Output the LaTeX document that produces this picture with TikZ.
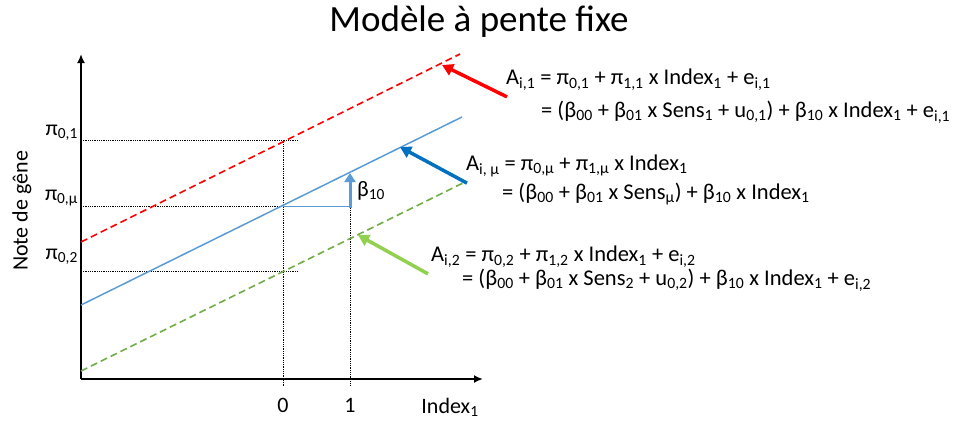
\documentclass[tikz,border=0pt]{standalone}
\usepackage{fontspec}
\setmainfont{Carlito}
\usetikzlibrary{arrows.meta}

\definecolor{lineblue}{RGB}{91,155,213}
\definecolor{darkblue}{RGB}{0,112,192}
\definecolor{linegreen}{RGB}{112,173,71}
\definecolor{lightgreen}{RGB}{146,208,80}
\newcommand{\lo}[1]{\textsubscript{#1}}

\tikzset{
  eq/.style={anchor=west,inner sep=1pt,font=\fontsize{22.5}{26}\selectfont},
  lbl/.style={inner sep=1pt,font=\fontsize{22}{26}\selectfont},
  guide/.style={densely dotted,black,line width=0.8pt},
  longdash/.style={dash pattern=on 7pt off 4pt,line width=1.6pt},
  callout/.style={line width=3.5pt,-{Triangle[length=11pt,width=12pt]}}
}

\begin{document}
\begin{tikzpicture}[x=1pt,y=-1pt]
        \useasboundingbox (0,0) rectangle (978,421);
        \node[font=\fontsize{37}{40}\selectfont] (title) at (479,22) {Modèle à pente fixe};
        % axes
        \coordinate (O) at (81,379);
        \draw[line width=1.8pt,-{Latex[length=9pt,width=8pt]}] (O) -- (483,379) coordinate (xend);
        \draw[line width=1.8pt,-{Latex[length=9pt,width=8pt]}] (O) -- (81,54) coordinate (yend);
        % guides
        \draw[guide] (81,140.5) -- (298,140.5);
        \draw[guide] (81,206.5) -- (283,206.5);
        \draw[guide] (81,271) -- (298,271);
        \draw[guide] (283,140.5) -- (283,386);
        \draw[guide] (350,174) -- (350,386);
        % lines
        \draw[red,longdash] (81,242) -- (460,54);
        \draw[lineblue,line width=1.5pt] (81,305) -- (462,117);
        \draw[linegreen,longdash] (81,371) -- (463,183);
        \draw[lineblue,line width=1pt] (283,206.5) -- (350,206.5);
        \draw[lineblue,line width=3pt,-{Triangle[length=9pt,width=11pt]}] (350,207.5) -- (350,173);
        \node[lbl,anchor=west] (beta) at (356,191) {β\lo{10}};
        % axis labels
        \node[lbl] (zero) at (283,405) {0};
        \node[lbl] (one) at (350,405) {1};
        \node[lbl] (index) at (450,407) {Index\lo{1}};
        \node[lbl,anchor=east] (p1) at (79,133) {π\lo{0,1}};
        \node[lbl,anchor=east] (pmu) at (79,198) {π\lo{0,μ}};
        \node[lbl,anchor=east] (p2) at (79,257) {π\lo{0,2}};
        \node[lbl,rotate=90] (ylab) at (22,211) {Note de gêne};
        % equations
        \node[eq] (eq1a) at (505,80) {A\lo{i,1} = π\lo{0,1} + π\lo{1,1} x Index\lo{1} + e\lo{i,1}};
        \node[eq] (eq1b) at (540,112) {= (β\lo{00} + β\lo{01} x Sens\lo{1} + u\lo{0,1}) + β\lo{10} x Index\lo{1} + e\lo{i,1}};
        \node[eq] (eqma) at (465,166) {A\lo{i, μ} = π\lo{0,μ} + π\lo{1,μ} x Index\lo{1}};
        \node[eq] (eqmb) at (501,194) {= (β\lo{00} + β\lo{01} x Sens\lo{μ}) + β\lo{10} x Index\lo{1}};
        \node[eq] (eq2a) at (430,257) {A\lo{i,2} = π\lo{0,2} + π\lo{1,2} x Index\lo{1} + e\lo{i,2}};
        \node[eq] (eq2b) at (461,280) {= (β\lo{00} + β\lo{01} x Sens\lo{2} + u\lo{0,2}) + β\lo{10} x Index\lo{1} + e\lo{i,2}};
        % callouts
        \coordinate (h1) at (442,65);
        \coordinate (hm) at (400,147);
        \coordinate (h2) at (358,235);
        \draw[callout,red] ([xshift=2pt,yshift=-5pt]eq1a.south west) -- (h1);
        \draw[callout,darkblue] ([xshift=2pt,yshift=-5pt]eqma.south west) -- (hm);
        \draw[callout,lightgreen] ([xshift=-2pt,yshift=-5pt]eq2a.south west) -- (h2);
\end{tikzpicture}
\end{document}
